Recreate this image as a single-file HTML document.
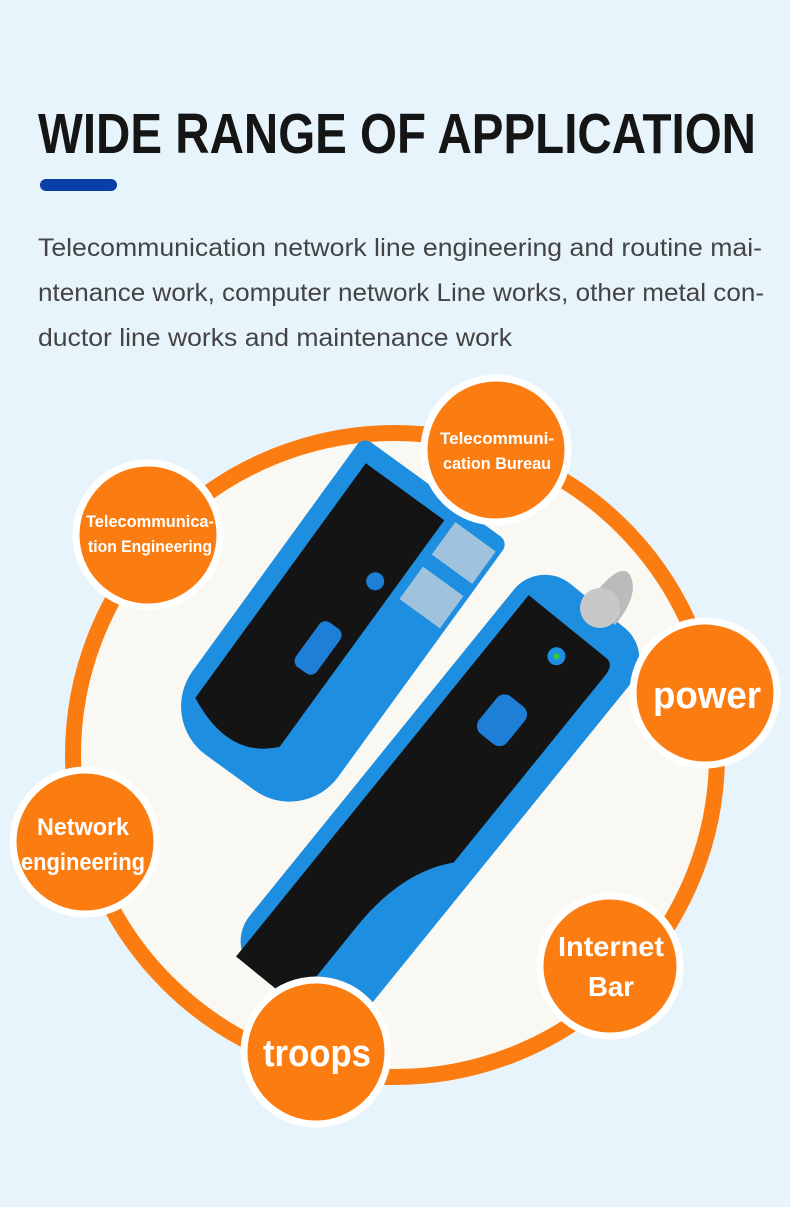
<!DOCTYPE html>
<html><head><meta charset="utf-8"><style>
html,body{margin:0;padding:0;background:#e8f4fc;}
svg{display:block}
</style></head><body>
<svg width="790" height="1207" viewBox="0 0 790 1207" xmlns="http://www.w3.org/2000/svg" font-family="Liberation Sans, sans-serif">
<rect width="790" height="1207" fill="#e8f4fc"/>
<text x="38" y="153" font-size="57" font-weight="bold" fill="#151515" textLength="718" lengthAdjust="spacingAndGlyphs">WIDE RANGE OF APPLICATION</text>
<rect x="40" y="179" width="77" height="12" rx="6" fill="#0a3ea8"/>
<g font-size="25" fill="#444">
<text x="38" y="256" textLength="724" lengthAdjust="spacingAndGlyphs">Telecommunication network line engineering and routine mai-</text>
<text x="38" y="301" textLength="726" lengthAdjust="spacingAndGlyphs">ntenance work, computer network Line works, other metal con-</text>
<text x="38" y="346" textLength="474" lengthAdjust="spacingAndGlyphs">ductor line works and maintenance work</text>
</g>
<circle cx="395" cy="755" r="322" fill="#faf8f3" stroke="#fb7d12" stroke-width="16"/>
<!-- emitter -->
<g transform="translate(330,635) rotate(36)">
<rect x="-90" y="-180" width="180" height="350" rx="60" fill="#1e8fe0"/>
<rect x="-90" y="-180" width="180" height="80" rx="10" fill="#1e8fe0"/>
<path d="M-72 -160 L25 -160 L25 120 Q-10 160 -72 130 Z" fill="#141414"/>
<rect x="-15" y="-10" width="26" height="55" rx="8" fill="#1e7fd8"/>
<circle cx="5" cy="-70" r="9" fill="#1e7fd8"/>
<rect x="35" y="-165" width="50" height="40" fill="#9fc3dc"/>
<rect x="35" y="-110" width="50" height="40" fill="#9fc3dc"/>
</g>
<!-- receiver -->
<g transform="translate(440,800) rotate(39)">
<rect x="-75" y="-250" width="150" height="500" rx="40" fill="#1e8fe0"/>
<path d="M-60 -215 L40 -215 Q50 -215 50 -200 L50 40 Q15 80 15 150 L15 250 L-60 250 Z" fill="#141414"/>
<rect x="-20" y="-125" width="36" height="48" rx="10" fill="#1e7fd8"/>
<circle cx="0" cy="-185" r="9" fill="#1e8fe0"/>
<circle cx="0" cy="-185" r="3" fill="#3c3"/>
</g>
<path d="M590 600 Q620 560 630 575 Q640 595 615 625 Z" fill="#bbb"/>
<circle cx="600" cy="608" r="20" fill="#c8c8c8"/>
<g fill="#fb7d12" stroke="#ffffff" stroke-width="7">
<circle cx="148" cy="535" r="72"/>
<circle cx="496" cy="450" r="72"/>
<circle cx="705" cy="693" r="72"/>
<circle cx="85" cy="842" r="72"/>
<circle cx="610" cy="966" r="70"/>
<circle cx="316" cy="1052" r="72"/>
</g>
<g fill="#fff" font-weight="bold" text-anchor="middle">
<text x="150" y="527" font-size="17" textLength="128" lengthAdjust="spacingAndGlyphs">Telecommunica-</text>
<text x="150" y="552" font-size="17" textLength="124" lengthAdjust="spacingAndGlyphs">tion Engineering</text>
<text x="497" y="444" font-size="17" textLength="114" lengthAdjust="spacingAndGlyphs">Telecommuni-</text>
<text x="497" y="469" font-size="17" textLength="108" lengthAdjust="spacingAndGlyphs">cation Bureau</text>
<text x="707" y="708" font-size="38" textLength="108" lengthAdjust="spacingAndGlyphs">power</text>
<text x="83" y="835" font-size="24" textLength="92" lengthAdjust="spacingAndGlyphs">Network</text>
<text x="83" y="870" font-size="24" textLength="124" lengthAdjust="spacingAndGlyphs">engineering</text>
<text x="611" y="956" font-size="28" textLength="106" lengthAdjust="spacingAndGlyphs">Internet</text>
<text x="611" y="996" font-size="28" textLength="46" lengthAdjust="spacingAndGlyphs">Bar</text>
<text x="317" y="1066" font-size="38" textLength="108" lengthAdjust="spacingAndGlyphs">troops</text>
</g>
</svg>
</body></html>
